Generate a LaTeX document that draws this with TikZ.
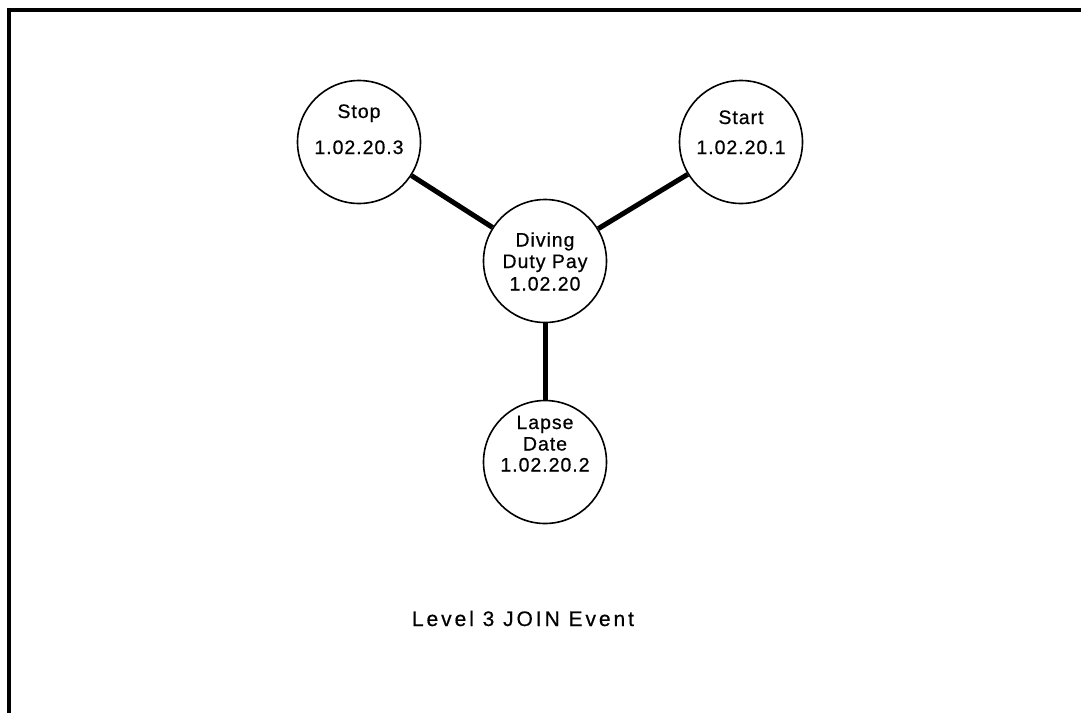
\documentclass[tikz,border=0pt]{standalone}
\usepackage{fontspec}
\setmainfont{Liberation Sans}
\newfontfamily\cfont[LetterSpace=5,FakeBold=0.6]{Liberation Sans}
\newfontfamily\capfont[LetterSpace=14,FakeBold=0.6]{Liberation Sans}
\tikzset{
  bubble/.style={circle, draw=black, line width=1.6pt, minimum size=123pt, inner sep=0pt},
  lbl/.style={anchor=base, inner sep=0pt, font=\cfont\fontsize{19.5}{20}\selectfont},
  caplbl/.style={anchor=base, inner sep=0pt, font=\capfont\fontsize{21}{22}\selectfont},
  conn/.style={draw=black, line width=5pt},
  frameline/.style={draw=black, line width=3.5pt}
}
\begin{document}
\begin{tikzpicture}[x=1pt,y=-1pt]
\useasboundingbox (0,0) rectangle (1085,713);
% frame
\coordinate (fbl) at (9,713);
\coordinate (ftl) at (9,10);
\coordinate (ftr) at (1081,10);
\draw[frameline] (fbl) -- (ftl) -- (ftr);
% circles
\node[bubble] (stop) at (359,142) {};
\node[bubble] (start) at (741,142) {};
\node[bubble] (div) at (545,261) {};
\node[bubble] (lapse) at (545,462) {};
% connectors
\draw[conn] (stop) -- (div);
\draw[conn] (start) -- (div);
\draw[conn] (div) -- (lapse);
% texts
\node[lbl] (stopa) at (359,118) {Stop};
\node[lbl] (stopb) at (359,154) {1.02.20.3};
\node[lbl] (starta) at (741,124) {Start};
\node[lbl] (startb) at (741,154) {1.02.20.1};
\node[lbl] (diva) at (545,246.5) {Diving};
\node[lbl] (divb) at (545,268) {Duty Pay};
\node[lbl] (divc) at (545,290.5) {1.02.20};
\node[lbl] (lapsea) at (545,429) {Lapse};
\node[lbl] (lapseb) at (545,450.5) {Date};
\node[lbl] (lapsec) at (545,471.5) {1.02.20.2};
\node[caplbl] (cap) at (523,626) {Level 3 JOIN Event};
\end{tikzpicture}
\end{document}
